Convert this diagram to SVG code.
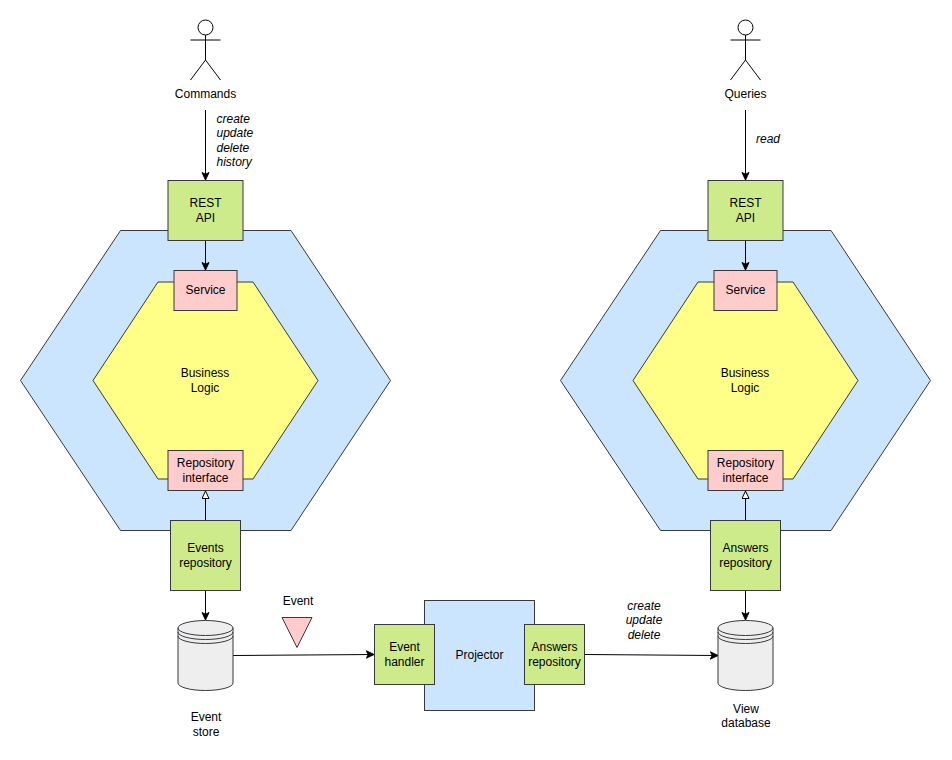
<svg xmlns="http://www.w3.org/2000/svg" width="952" height="760" viewBox="0 0 952 760">
<defs>
<style>
text{font-family:"Liberation Sans",Arial,sans-serif;font-size:12px;fill:#000;text-anchor:middle}
.i{font-style:italic}
.l{text-anchor:start}
.s{stroke:#36393d;stroke-width:1}
.blue{fill:#cce5ff}.yel{fill:#ffff88}.grn{fill:#cdeb8b}.pnk{fill:#ffcccc}
.act{fill:none;stroke:#000;stroke-width:1}
.c{fill:none;stroke:#000;stroke-width:1}
.db{fill:#eeeeee;stroke:#36393d;stroke-width:1}
.dbl{fill:none;stroke:#36393d;stroke-width:1}
</style>
<marker id="a" markerWidth="10" markerHeight="10" refX="8" refY="4.500" orient="auto" markerUnits="userSpaceOnUse"><path d="M0.500 1L8 4.500L0.500 8L2.300 4.500Z" fill="#000" stroke="#000" stroke-width="1"/></marker>
<marker id="t" markerWidth="10" markerHeight="10" refX="8" refY="4" orient="auto" markerUnits="userSpaceOnUse"><path d="M0.500 0.500L8 4L0.500 7.500Z" fill="#fff" stroke="#000"/></marker>
</defs>
<g id="hex-left-outer"><path class="blue s" d="M120.500 230.500H291L390.500 380.500L291 530.500H120.500L20.500 380.500Z"/></g>
<g id="hex-left-inner"><path class="yel s" d="M158 282H253L318 380.500L253 479H158L93 380.500Z"/><text x="205" y="377">Business</text><text x="205" y="392">Logic</text></g>
<g id="hex-right-outer"><path class="blue s" d="M660.500 230.500H831L930.500 380.500L831 530.500H660.500L560.500 380.500Z"/></g>
<g id="hex-right-inner"><path class="yel s" d="M698 282H793L858 380.500L793 479H698L633 380.500Z"/><text x="745" y="377">Business</text><text x="745" y="392">Logic</text></g>
<g id="connectors">
<path class="c" marker-end="url(#a)" d="M205.500 110V180"/>
<path class="c" marker-end="url(#a)" d="M205.500 240V270"/>
<path class="c" marker-end="url(#t)" d="M205.500 520V491"/>
<path class="c" marker-end="url(#a)" d="M205.500 590V620"/>
<path class="c" marker-end="url(#a)" d="M745.500 110V180"/>
<path class="c" marker-end="url(#a)" d="M745.500 240V270"/>
<path class="c" marker-end="url(#t)" d="M745.500 520V491"/>
<path class="c" marker-end="url(#a)" d="M745.500 590V620"/>
<path class="c" marker-end="url(#a)" d="M233 655.500L374 654.500"/>
<path class="c" marker-end="url(#a)" d="M585 654.500L718 655.500"/>
</g>
<g id="actor-commands"><circle class="act" cx="205.500" cy="27.500" r="7.500"/><path class="act" d="M205.500 35V60M190.500 40H220.500M190.500 80L205.500 60L220.500 80"/><text x="205.500" y="98">Commands</text></g>
<g id="actor-queries"><circle class="act" cx="745.500" cy="27.500" r="7.500"/><path class="act" d="M745.500 35V60M730.500 40H760.500M730.500 80L745.500 60L760.500 80"/><text x="745.500" y="98">Queries</text></g>
<g id="label-commands"><text class="i l" x="216.500" y="123">create</text><text class="i l" x="216.500" y="137">update</text><text class="i l" x="216.500" y="152">delete</text><text class="i l" x="216.500" y="166">history</text></g>
<g id="label-read"><text class="i" x="768" y="143">read</text></g>
<g id="rest-left"><rect class="grn s" x="168" y="180.500" width="75" height="60"/><text x="205.500" y="207">REST</text><text x="205.500" y="222">API</text></g>
<g id="service-left"><rect class="pnk s" x="174" y="270.500" width="63" height="40"/><text x="205.500" y="294">Service</text></g>
<g id="repo-if-left"><rect class="pnk s" x="168" y="450.500" width="75" height="40"/><text x="205.500" y="467">Repository</text><text x="205.500" y="482">interface</text></g>
<g id="events-repo"><rect class="grn s" x="170.500" y="520.500" width="70" height="70"/><text x="205.500" y="552">Events</text><text x="205.500" y="567">repository</text></g>
<g id="rest-right"><rect class="grn s" x="708" y="180.500" width="75" height="60"/><text x="745.500" y="207">REST</text><text x="745.500" y="222">API</text></g>
<g id="service-right"><rect class="pnk s" x="714" y="270.500" width="63" height="40"/><text x="745.500" y="294">Service</text></g>
<g id="repo-if-right"><rect class="pnk s" x="708" y="450.500" width="75" height="40"/><text x="745.500" y="467">Repository</text><text x="745.500" y="482">interface</text></g>
<g id="answers-repo-right"><rect class="grn s" x="710.500" y="520.500" width="70" height="70"/><text x="745.500" y="552">Answers</text><text x="745.500" y="567">repository</text></g>
<g id="event-store"><path class="db" d="M178 628A27.500 7.500 0 0 1 233 628V683A27.500 7.500 0 0 1 178 683Z"/><path class="dbl" d="M178 628A27.500 7.500 0 0 0 233 628M178 632A27.500 7.500 0 0 0 233 632M178 636A27.500 7.500 0 0 0 233 636"/><text x="206" y="721">Event</text><text x="206" y="736">store</text></g>
<g id="view-db"><path class="db" d="M718 628A27.500 7.500 0 0 1 773 628V683A27.500 7.500 0 0 1 718 683Z"/><path class="dbl" d="M718 628A27.500 7.500 0 0 0 773 628M718 632A27.500 7.500 0 0 0 773 632M718 636A27.500 7.500 0 0 0 773 636"/><text x="746" y="713">View</text><text x="746" y="727">database</text></g>
<g id="event"><path class="pnk s" d="M282 617.500H312L297 647.500Z"/><text x="298" y="605">Event</text></g>
<g id="projector"><rect class="blue s" x="424.500" y="600.500" width="110" height="110"/><text x="479.500" y="659">Projector</text></g>
<g id="event-handler"><rect class="grn s" x="374.500" y="624.500" width="60" height="60"/><text x="404.500" y="651">Event</text><text x="404.500" y="666">handler</text></g>
<g id="answers-repo-mid"><rect class="grn s" x="524.500" y="624.500" width="60" height="60"/><text x="554.500" y="651">Answers</text><text x="554.500" y="666">repository</text></g>
<g id="label-create"><text class="i" x="644" y="610">create</text><text class="i" x="644" y="624">update</text><text class="i" x="644" y="639">delete</text></g>
</svg>
